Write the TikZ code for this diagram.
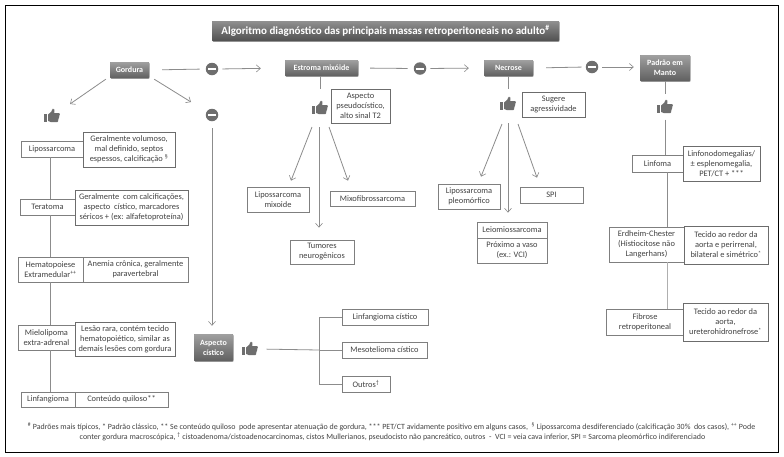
\documentclass[tikz,border=0pt]{standalone}
\usepackage{fontspec}
\setmainfont{Carlito}
\usetikzlibrary{arrows.meta,shadows,calc}
\definecolor{ink}{HTML}{424242}
\definecolor{edge}{HTML}{7F7F7F}
\definecolor{wire}{HTML}{8C8C8C}
\definecolor{icon}{HTML}{6E6E6E}
\definecolor{gtop}{HTML}{A0A0A0}
\definecolor{gbot}{HTML}{606060}
\newcommand{\bx}[7][infobox]{%
  \pgfmathsetmacro{\cxx}{(#3+#5)/2}\pgfmathsetmacro{\cyy}{(#4+#6)/2}%
  \pgfmathsetmacro{\www}{#5-#3}\pgfmathsetmacro{\hhh}{#6-#4}%
  \node[#1,minimum width=\www pt,minimum height=\hhh pt] (#2) at (\cxx,\cyy) {#7};}
\newcommand{\sss}[1]{\textsuperscript{#1}}
\tikzset{
  infobox/.style={draw=edge,fill=white,line width=.7pt,inner sep=0pt,align=center,text=ink,font=\fontsize{8.4}{10}\selectfont},
  descbox/.style={infobox,draw=edge!85!black,line width=.9pt},
  headbox/.style={fill=gbot,top color=gtop,bottom color=gbot,inner sep=0pt,align=center,text=white,rounded corners=.8pt,
    drop shadow={shadow xshift=.6pt,shadow yshift=-.8pt,opacity=.35,fill=black},font=\fontsize{8}{10}\bfseries\selectfont},
  titlebox/.style={headbox,top color=gtop!90!black,bottom color=gbot!110!white,font=\fontsize{11}{13}\bfseries\selectfont},
  conn/.style={draw=wire,line width=.8pt},
  arrowline/.style={conn,-{Straight Barb[length=4pt,width=7pt,line width=.6pt]}},
  minusicon/.style={circle,fill=icon,minimum size=12.5pt,inner sep=0pt,
    path picture={\fill[white] ([shift={(-4.2,-1)}]path picture bounding box.center) rectangle ([shift={(4.2,1)}]path picture bounding box.center);}},
  thumbicon/.style={minimum width=17pt,minimum height=15pt,inner sep=0pt,
    path picture={\begin{scope}[shift={(path picture bounding box.center)}]
      \fill[icon] (-8,-2) rectangle (-5,6.2);
      \fill[icon] (-3.8,-1.6) -- (-0.6,-4.4) .. controls (0,-5.6) and (0,-7) .. (1,-7.3)
        .. controls (2.6,-7.4) and (3,-5.6) .. (2.2,-2.9) -- (7,-2.9)
        .. controls (8.2,-2.8) and (8.2,-1.4) .. (7.5,-.8) .. controls (8,.2) and (7.6,1.2) .. (7,1.5)
        .. controls (7.4,2.4) and (7,3.2) .. (6.3,3.5) .. controls (6.6,4.6) and (6,6.2) .. (5,6.2)
        -- (-.8,6.2) -- (-3.8,5) -- cycle;
      \end{scope}}},
  footnote/.style={inner sep=0pt,text=ink,font=\fontsize{7.95}{9.5}\selectfont}
}
\begin{document}
\begin{tikzpicture}[x=1pt,y=-1pt]
\useasboundingbox (0,0) rectangle (784,456);
\fill[white] (0,0) rectangle (784,456);
\draw[black,line width=.9pt] (5.5,5) rectangle (778.5,452);
% headers
\bx[titlebox]{title}{212}{21}{559}{41}{Algoritmo diagnóstico das principais massas retroperitoneais no adulto\sss{\#}}
\bx[headbox]{gordura}{110}{62}{149}{78}{Gordura}
\bx[headbox]{estroma}{285}{60}{358}{76}{Estroma mixóide}
\bx[headbox]{necrose}{484}{60}{533}{76}{Necrose}
\bx[headbox]{manto}{640}{55}{690}{81}{Padrão em\\Manto}
\bx[headbox]{cistico}{194}{334}{233}{361}{Aspecto\\cístico}
% icons
\node[minusicon] (m1) at (212,69) {};
\node[minusicon] (m2) at (212,115) {};
\node[minusicon] (m3) at (420,68.5) {};
\node[minusicon] (m4) at (592,67) {};
\node[thumbicon] (t1) at (52,116) {};
\node[thumbicon] (t2) at (320,108) {};
\node[thumbicon] (t3) at (508,104) {};
\node[thumbicon] (t4) at (665,107) {};
\node[thumbicon] (t5) at (250,349) {};
% left column
\bx{lipo}{21}{141}{83}{157}{Lipossarcoma}
\bx[descbox]{lipod}{83}{132}{175}{167}{Geralmente volumoso,\\mal definido, septos\\espessos, calcificação \sss{§}}
\bx{tera}{20}{199}{75}{215}{Teratoma}
\bx[descbox]{terad}{75}{190}{188}{225}{Geralmente \ com calcificações,\\aspecto \ cístico, marcadores\\séricos + (ex: alfafetoproteína)}
\bx{hema}{18}{257}{83}{282}{Hematopoiese\\Extramedular\sss{++}}
\bx{hemad}{83}{257}{188}{282}{Anemia crônica, geralmente\\paravertebral}
\bx{mielo}{18}{325}{75}{350}{Mielolipoma\\extra-adrenal}
\bx[descbox]{mielod}{75}{322}{175}{356}{Lesão rara, contém tecido\\hematopoiético, similar as\\demais lesões com gordura}
\bx{linf}{21}{392}{75}{407}{Linfangioma}
\bx{linfd}{75}{392}{168}{407}{Conteúdo quiloso**}
% cystic
\bx{lcist}{342}{309}{428}{325}{Linfangioma cístico}
\bx{mcist}{342}{342}{427}{358}{Mesotelioma cístico}
\bx{outros}{342}{376}{390}{392}{Outros\sss{†}}
% estroma
\bx[descbox]{pseudo}{331}{89}{390}{123}{Aspecto\\pseudocístico,\\alto sinal T2}
\bx{lmix}{247}{187}{309}{212}{Lipossarcoma\\mixoide}
\bx{mixo}{330}{191}{415}{206}{Mixofibrossarcoma}
\bx{neuro}{290}{240}{354}{264}{Tumores\\neurogênicos}
% necrose
\bx[descbox]{sugere}{522}{92}{585}{117}{Sugere\\agressividade}
\bx{lpleo}{438}{184}{500}{209}{Lipossarcoma\\pleomórfico}
\bx{spi}{520}{187}{583}{203}{SPI}
\bx{leio}{477}{222}{547}{238}{Leiomiossarcoma}
\bx{prox}{477}{238}{547}{263}{Próximo a vaso\\(ex.: VCI)}
% manto
\bx{linfoma}{632}{155}{683}{172}{Linfoma}
\bx[descbox]{linfomad}{683}{146}{760}{181}{Linfonodomegalias/\\± esplenomegalia,\\PET/CT + ***}
\bx{erd}{609}{227}{684}{262}{Erdheim-Chester\\(Histiocitose não\\Langerhans)}
\bx[descbox]{erdd}{684}{226}{768}{264}{Tecido ao redor da\\aorta e perirrenal,\\bilateral e simétrico\sss{*}}
\bx{fib}{606}{309}{684}{335}{Fibrose\\retroperitoneal}
\bx[descbox]{fibd}{683}{303}{768}{341}{Tecido ao redor da\\aorta,\\ureterohidronefrose\sss{*}}
% top row connectors
\draw[conn,shorten <=13pt,shorten >=6pt] (gordura.east) -- (m1.west);
\draw[arrowline,shorten <=4pt,shorten >=24pt] (m1.east) -- (estroma.west);
\draw[conn,shorten <=12pt,shorten >=6pt] (estroma.east) -- (m3.west);
\draw[arrowline,shorten <=4pt,shorten >=15pt] (m3.east) -- (necrose.west);
\draw[conn,shorten <=13pt,shorten >=4pt] (necrose.east) -- (m4.west);
\draw[arrowline,shorten <=4pt,shorten >=6pt] (m4.east) -- (m4.east -| manto.west);
% gordura branches
\draw[arrowline] ([shift={(-4,1)}]gordura.south west) -- ([shift={(18,-12)}]t1.center);
\draw[arrowline] ([shift={(5,1)}]gordura.south east) -- ([shift={(-21,-13)}]m2.center);
\coordinate (trunkL) at (50,0);
\draw[conn] (lipo.south -| trunkL) -- (tera.north -| trunkL);
\draw[conn] (tera.south -| trunkL) -- (hema.north -| trunkL);
\draw[conn] (hema.south -| trunkL) -- (mielo.north -| trunkL);
\draw[conn] (mielo.south -| trunkL) -- (linf.north -| trunkL);
% cystic branch
\draw[arrowline,shorten <=7pt,shorten >=8pt] (m2.south) -- (m2.south |- cistico.north);
\coordinate (brk) at (319,350);
\draw[conn,shorten <=8pt] (t5.east) -- (brk);
\draw[conn] (lcist.west) -- (lcist.west -| brk) -- (outros.west -| brk) -- (outros.west);
\draw[conn] (brk) -- (mcist.west);
% estroma branches
\draw[conn] (estroma.south -| t2.center) -- ($(pseudo.north -| t2.center)$);
\draw[arrowline] ([shift={(-8,19)}]t2.center) -- ([shift={(13,-6)}]lmix.north);
\draw[arrowline] ([shift={(-1,19)}]t2.center) -- ([shift={(-3,-12)}]neuro.north);
\draw[arrowline] ([shift={(9,19)}]t2.center) -- ([shift={(-24.5,-10)}]mixo.north);
% necrose branches
\draw[conn] (necrose.south -| t3.center) -- ([yshift=7pt]t3.north);
\draw[arrowline] ([shift={(-6,20)}]t3.center) -- ([shift={(12,-7)}]lpleo.north);
\draw[arrowline] ([shift={(0,19)}]t3.center) -- ([shift={(-4,-9)}]leio.north);
\draw[arrowline] ([shift={(10,20)}]t3.center) -- ([shift={(-14.5,-9)}]spi.north);
% manto trunk
\draw[conn] (manto.south -| t4.center) -- ([yshift=5pt]t4.north);
\draw[conn,shorten <=5pt] (t4.south) -- (linfoma.north -| t4.center);
\coordinate (trunkR) at (667,0);
\draw[conn] (linfoma.south -| trunkR) -- (erd.north -| trunkR);
\draw[conn,line width=1pt,draw=wire!70!white] (erd.south -| trunkR) -- (fib.north -| trunkR);
% footnotes
\node[footnote] (fn1) at (391.5,427) {\sss{\#} Padrões mais típicos, * Padrão clássico, ** Se conteúdo quiloso \ pode apresentar atenuação de gordura, *** PET/CT avidamente positivo em alguns casos, \ \sss{§} Lipossarcoma desdiferenciado (calcificação 30\% \ dos casos), \sss{++} Pode};
\node[footnote] (fn2) at (392.5,436.5) {conter gordura macroscópica, \sss{†} cistoadenoma/cistoadenocarcinomas, cistos Mullerianos, pseudocisto não pancreático, outros \ - \ VCI = veia cava inferior, SPI = Sarcoma pleomórfico indiferenciado};
\end{tikzpicture}
\end{document}
